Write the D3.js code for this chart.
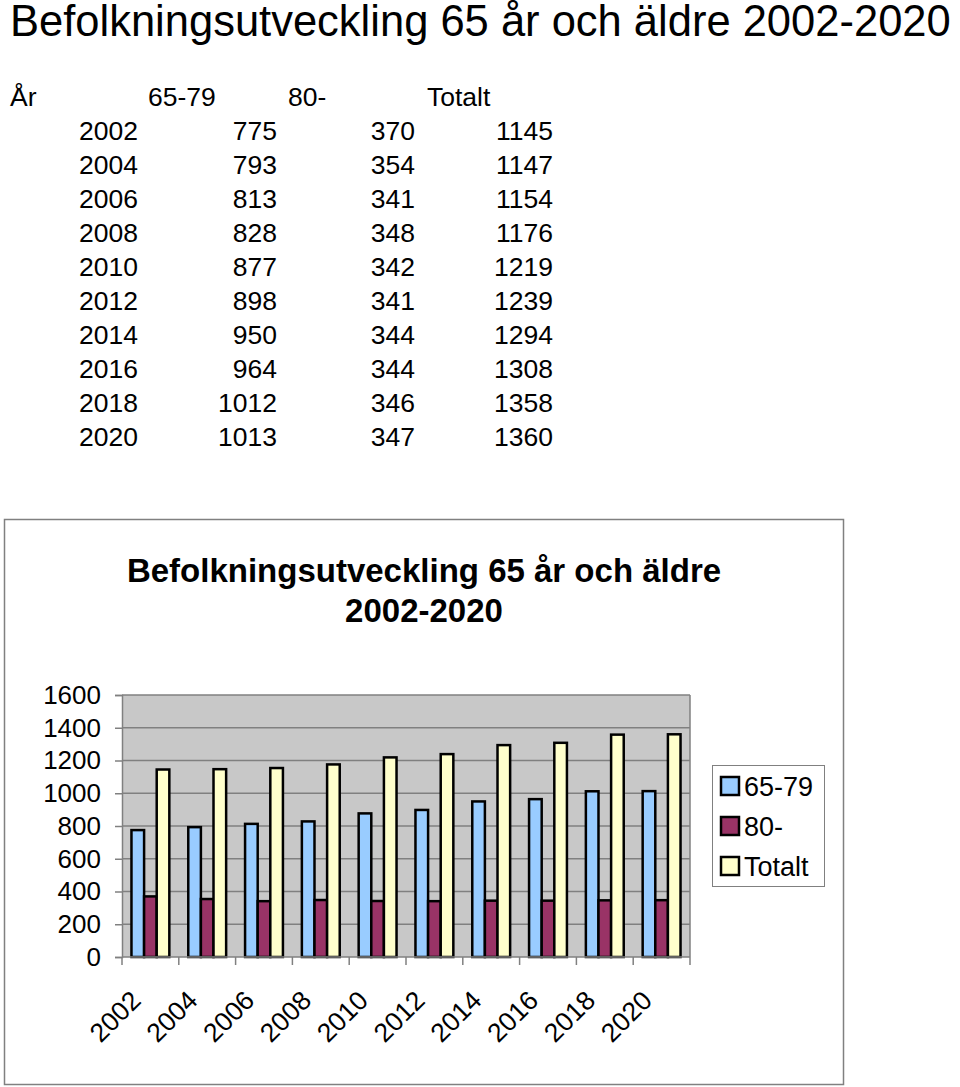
<!DOCTYPE html>
<html><head><meta charset="utf-8">
<script src="https://cdn.jsdelivr.net/npm/d3@7/dist/d3.min.js"></script>
<style>body{margin:0;background:#fff}svg{display:block}text{font-family:"Liberation Sans",Arial,sans-serif}</style>
</head><body><svg id="c" width="960" height="1087"></svg>
<script>
const years = ["2002","2004","2006","2008","2010","2012","2014","2016","2018","2020"];
const seriesNames = ["65-79","80-","Totalt"];
const v6579 = [775,793,813,828,877,898,950,964,1012,1013];
const v80 = [370,354,341,348,342,341,344,344,346,347];
const vTot = [1145,1147,1154,1176,1219,1239,1294,1308,1358,1360];
const yTicks = [0,200,400,600,800,1000,1200,1400,1600];
const colors = ["#99CCFF","#993366","#FFFFCC"];

const svg = d3.select("#c");
const allSeries = [v6579, v80, vTot];

// Page title
svg.append("text").attr("x",10).attr("y",36).attr("font-size",43.5).text("Befolkningsutveckling 65 år och äldre 2002-2020");

// Table
const colLeft = [10,148,288,427];
const colRight = [138,277,415,553];
const tFs = 26.5;
svg.append("g").selectAll("text").data(["År"].concat(seriesNames)).join("text")
  .attr("x",(d,i)=>colLeft[i]).attr("y",106).attr("font-size",tFs).text(d=>d);
const rowY = d3.scaleLinear().domain([0,1]).range([140,174]);
years.forEach((yr,r)=>{
  const cells=[yr, v6579[r], v80[r], vTot[r]];
  svg.append("g").selectAll("text").data(cells).join("text")
    .attr("x",(d,i)=>colRight[i]).attr("y",rowY(r)).attr("text-anchor","end").attr("font-size",tFs).text(d=>d);
});

// Chart frame
svg.append("rect").attr("x",4.5).attr("y",519.5).attr("width",839).attr("height",565).attr("fill","#fff").attr("stroke","#808080").attr("stroke-width",1.5);
svg.append("text").attr("x",424).attr("y",582).attr("text-anchor","middle").attr("font-size",33).attr("font-weight","bold").text("Befolkningsutveckling 65 år och äldre");
svg.append("text").attr("x",424).attr("y",622).attr("text-anchor","middle").attr("font-size",33).attr("font-weight","bold").text("2002-2020");

const L=122, R=690, T=695, B=957;
const x = d3.scaleBand().domain(years).range([L,R]).paddingInner(0).paddingOuter(0);
const y = d3.scaleLinear().domain([0,1600]).range([B,T]);
const bw = x.bandwidth()/4.5;
const gap = (x.bandwidth()-3*bw)/2;

svg.append("rect").attr("x",L).attr("y",T).attr("width",R-L).attr("height",B-T).attr("fill","#C8C8C8");
svg.append("g").selectAll("line").data(yTicks.filter(d=>d>0)).join("line")
  .attr("x1",L).attr("x2",R).attr("y1",d=>y(d)).attr("y2",d=>y(d)).attr("stroke","#808080").attr("stroke-width",1.5);
svg.append("line").attr("x1",R).attr("x2",R).attr("y1",T).attr("y2",B).attr("stroke","#808080").attr("stroke-width",1.5);

// Bars
allSeries.forEach((s,si)=>{
  svg.append("g").selectAll("rect").data(s).join("rect")
    .attr("x",(d,i)=>x(years[i])+gap+si*bw).attr("y",d=>y(d)).attr("width",bw).attr("height",d=>B-y(d))
    .attr("fill",colors[si]).attr("stroke","#000").attr("stroke-width",2.5);
});

// Axes
const ya = svg.append("g").attr("transform",`translate(${L},0)`).call(d3.axisLeft(y).tickValues(yTicks).tickSize(7).tickPadding(14).tickFormat(d3.format("d")));
ya.select(".domain").attr("stroke","#808080").attr("stroke-width",1.5);
ya.selectAll(".tick line").attr("stroke","#808080").attr("stroke-width",1.5);
ya.selectAll("text").attr("font-size",26).attr("fill","#000").attr("font-family","Liberation Sans, Arial, sans-serif");

const xa = svg.append("g").attr("transform",`translate(0,${B})`);
xa.append("line").attr("x1",L).attr("x2",R).attr("stroke","#808080").attr("stroke-width",1.5);
xa.selectAll("line.t").data(d3.range(years.length+1)).join("line").attr("class","t")
  .attr("x1",i=>L+i*x.step()).attr("x2",i=>L+i*x.step()).attr("y1",0).attr("y2",8).attr("stroke","#808080").attr("stroke-width",1.5);
xa.selectAll("text").data(years).join("text")
  .attr("transform",d=>`translate(${x(d)+x.bandwidth()/2-8},${45}) rotate(-45)`)
  .attr("text-anchor","end").attr("font-size",26.5).text(d=>d);

// Legend
const lg = svg.append("g");
lg.append("rect").attr("x",712.5).attr("y",765.5).attr("width",112).attr("height",121).attr("fill","#fff").attr("stroke","#808080").attr("stroke-width",1);
seriesNames.forEach((n,i)=>{
  const cy = 786+i*40;
  lg.append("rect").attr("x",721).attr("y",cy-9).attr("width",18).attr("height",18).attr("fill",colors[i]).attr("stroke","#000").attr("stroke-width",2.5);
  lg.append("text").attr("x",744).attr("y",cy+10).attr("font-size",27).text(n);
});
</script></body></html>
